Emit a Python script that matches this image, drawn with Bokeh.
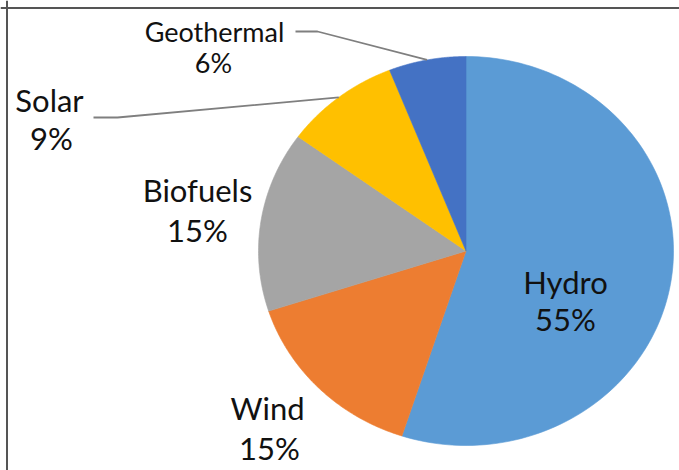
import numpy as np
from bokeh.plotting import figure
from bokeh.models import ColumnDataSource, Range1d, Span
from bokeh.core.properties import value
from bokeh.embed import file_html
from bokeh.resources import INLINE

# ---- data ----
categories = ["Hydro", "Wind", "Biofuels", "Solar", "Geothermal"]
shares = [55, 15, 15, 9, 6]
colors = ["#5B9BD5", "#ED7D31", "#A5A5A5", "#FFC000", "#4472C4"]

# ---- layout (page pixels) ----
W, H = 679, 470
CX, CY, RX, RY = 465.5, 250.5, 207.5, 194.5
name_x = [565, 267, 197, 49, 214]
name_y = [281, 407, 189, 99, 31]
pct_x = [565, 269, 197, 51, 213]
pct_y = [318, 447, 229, 137, 62]
font_px = ["31px", "31px", "31px", "31px", "27px"]
# leader elbows for slices labelled outside (index: [start, elbow])
leaders = {4: [(295, 31), (317, 31)], 3: [(93, 117), (117, 117)]}

p = figure(width=W, height=H, output_backend="svg", toolbar_location=None,
           x_range=Range1d(0, W), y_range=Range1d(H, 0),
           min_border=0, background_fill_color="white",
           border_fill_color="white", outline_line_color=None)
p.axis.visible = False
p.grid.visible = False

total = float(sum(shares))
fr = np.array(shares) / total
ends = np.cumsum(fr) * 2 * np.pi
starts = ends - fr * 2 * np.pi

xs, ys = [], []
for a0, a1 in zip(starts, ends):
    t = np.linspace(a0, a1, 120)
    xs.append([CX] + list(CX + RX * np.sin(t)) + [CX])
    ys.append([CY] + list(CY - RY * np.cos(t)) + [CY])

p.patches(xs=xs, ys=ys, fill_color=colors, line_color=colors, line_width=0.6)

# leader lines
for i, pts in leaders.items():
    mid = (starts[i] + ends[i]) / 2
    ex = CX + RX * np.sin(mid)
    ey = CY - RY * np.cos(mid)
    lx = [pt[0] for pt in pts] + [ex]
    ly = [pt[1] for pt in pts] + [ey]
    p.line(lx, ly, line_color="#7F7F7F", line_width=1.8)

src = ColumnDataSource(dict(
    x=name_x + pct_x,
    y=name_y + pct_y,
    t=categories + [f"{s}%" for s in shares],
    fs=font_px + font_px,
))
p.text(x="x", y="y", text="t", source=src, text_align="center",
       text_baseline="middle", text_font=value("Lato"),
       text_font_size="fs", text_color="#111111")

# frame edges (top and left)
p.add_layout(Span(location=7.5, dimension="width", line_color="#555555", line_width=2))
p.add_layout(Span(location=6.5, dimension="height", line_color="#555555", line_width=2))

open("out.html", "w").write(file_html(p, INLINE))
